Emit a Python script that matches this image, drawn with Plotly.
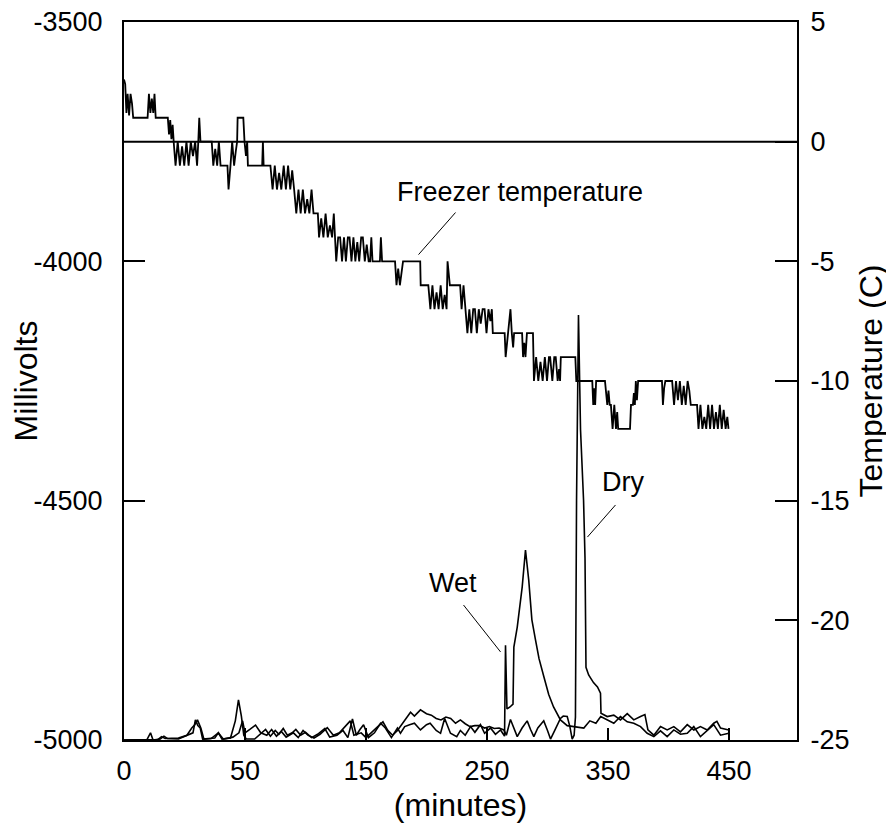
import plotly.graph_objects as go

# ---------------- axis ticks ----------------
X_TICK_POS = [0, 100, 200, 300, 400, 500]
X_TICK_LABELS = ["0", "50", "150", "250", "350", "450"]
MV_TICKS = [-5000, -4500, -4000, -3500]
MV_LABELS = ["-5000", "-4500", "-4000", "-3500"]
TEMP_TICKS = [-25, -20, -15, -10, -5, 0, 5]
TEMP_LABELS = ["-25", "-20", "-15", "-10", "-5", "0", "5"]

# ---------------- freezer temperature (C) ----------------
freezer_time = [
    0, 1.0, 2.0, 3.0, 4.2, 5.4, 6.6, 7.6,
    19.5, 20.6, 21.8, 23.0, 24.2, 25.2, 26.2,
    36.2, 37.2, 38.2, 39.2, 40.2, 41.2,
    42.6, 44.4, 46.2, 48.0, 49.8, 51.6, 53.4, 55.2, 57.0, 58.8, 60.4, 61.4,
    62.2, 63.2,
    72.5, 73.8, 75.4, 77.0, 78.4, 79.8,
    85.5, 86.4, 87.3, 88.0, 89.4, 91.0, 92.4, 93.5,
    93.9, 98.6, 99.6, 100.8, 101.8, 102.4,
    114.2, 114.8, 115.4,
    121.0, 122.8, 124.6, 126.4, 128.2, 130.0, 131.4, 132.0, 133.8, 135.6,
    137.4, 139.0, 140.6,
    142.4, 144.2, 146.0, 147.8, 149.6, 151.4, 153.2, 155.0, 156.6,
    160.2, 161.2, 163.0, 164.8, 166.6, 168.4, 170.2, 172.0, 173.4, 174.6,
    175.4, 177.0, 178.6, 180.2, 181.8, 183.4, 185.0, 186.4, 188.0, 189.6,
    191.2, 192.8, 194.4, 196.0, 197.4, 199.0, 200.6, 202.2, 203.4, 204.4,
    205.4,
    211.5, 212.3, 213.3,
    224.0, 225.2, 226.6, 228.0, 229.4, 230.6,
    244.8, 245.2,
    251.5, 253.2, 254.9, 256.6, 258.3, 260.0, 261.7, 263.4, 265.0, 266.6,
    267.4, 268.6, 269.3,
    277.8, 279.0, 280.6, 282.2, 283.8, 285.4, 287.0, 288.6, 290.0, 291.6,
    293.2, 294.8, 296.4, 298.0, 299.6, 301.2, 302.8, 304.0, 304.8,
    314.6, 315.4, 316.4, 317.4, 318.5, 319.4, 320.5, 321.6, 322.4,
    329.0, 329.8, 330.8, 331.8, 333.0,
    338.0, 338.8, 340.6, 342.4, 344.2, 346.0, 347.8, 349.6, 351.2, 352.2,
    354.0, 355.6, 356.8, 358.4, 359.6, 360.4, 361.0,
    373.0, 373.8,
    387.0, 387.8, 388.6, 389.4, 390.2,
    397.5, 398.4, 399.4, 400.4, 401.4,
    402.4, 403.8, 405.2, 406.6, 407.6, 408.4,
    418.2, 419.0, 420.6, 421.4, 422.2, 423.0, 423.9, 424.9,
    444.6, 445.4, 446.4, 447.4,
    453.0, 454.6, 456.2, 457.8, 459.4, 461.0, 462.6, 464.2, 465.8, 467.2,
    468.4,
    473.6, 474.8, 476.4, 478.0, 479.6, 481.2, 482.8, 484.4, 486.0, 487.6,
    489.2, 490.8, 492.4, 494.0, 495.6, 497.2, 498.6, 499.6,
]
freezer_temp = [
    2.6, 2.4, 1.2, 2.0, 1.1, 2.0, 1.6, 1.0,
    1.0, 2.0, 1.2, 1.8, 1.2, 2.0, 1.0,
    1.0, 0.3, 0.9, 0.1, 0.7, -0.1,
    -1, 0, -1, -0.2, -1, 0, -1, 0, -0.6, 0, -1, 0,
    1.0, 0.0,
    0, -1, -0.3, -1, 0, -1,
    -1, -2, -1.2, -1, 0, -1, -0.4, 0,
    1, 1, 0, -0.6, 0, -1,
    -1, 0, -1,
    -1, -2, -1, -2, -1.3, -2, -1, -1, -2, -1,
    -2, -1.2, -2,
    -3, -2, -3, -2, -3, -2.4, -3, -2, -3,
    -3, -4, -3.2, -4, -3, -4, -3.5, -4, -3, -4,
    -5, -4, -4, -5, -4, -5, -4, -4, -5, -4,
    -5, -4.2, -5, -4, -4, -5, -4.3, -5, -5, -4,
    -5,
    -5, -4, -5,
    -5, -6, -5.3, -6, -5.4, -5,
    -5, -6,
    -6, -7, -6, -7, -6.3, -7, -6, -7, -6.4, -7,
    -5, -5.5, -6,
    -6, -7, -6, -7, -8, -7, -8, -7, -7, -8,
    -7, -7.6, -7, -7, -8, -7, -7.5, -7, -8,
    -8, -9, -8.5, -8, -7.5, -7, -8, -8.6, -8,
    -8, -9, -8.4, -9, -8,
    -8, -10, -9, -10, -9.2, -10, -9, -10, -9, -9,
    -10, -9, -9, -10, -9.5, -10, -9,
    -9, -10,
    -10, -11, -10.3, -11, -10,
    -10, -10.6, -11, -10.4, -11,
    -11, -12, -11, -12, -11.3, -12,
    -12, -11, -11, -10.5, -11, -10, -10.8, -10,
    -10, -11, -10.3, -10,
    -10, -11, -10, -10.8, -10, -11, -10.2, -11, -10, -10.4,
    -11,
    -11, -12, -11, -12, -11.5, -12, -11, -12, -11, -12,
    -11.3, -12, -11, -12, -11.2, -12, -11.5, -12,
]

# ---------------- Wet sensor (mV) ----------------
wet_time = [
    0, 10, 19, 21.9, 24, 30, 33, 36, 45, 57, 59, 61, 63, 65, 75, 78, 81, 88,
    92, 94.6, 97, 99, 101, 108, 114, 117, 121, 125, 128, 131.6, 135, 139, 142,
    146, 150, 155, 160, 166, 170, 176, 181, 185, 188.8, 192, 195, 198, 202,
    207, 212, 216, 221, 226, 228.5, 232, 236, 240, 245, 250, 253, 258, 261.6,
    265, 269.8, 275, 278, 282, 286.4, 290, 294.6, 298, 302.9, 307, 311.2,
    314.5, 315.3, 316.5, 319, 321.5, 322.2, 325, 329.1, 331.8, 334.5, 337.1,
    340, 343, 347, 351, 355, 360.7, 366.3, 372, 376, 380, 385, 390, 394,
    399.3, 404.8, 410.3, 415.9, 421.3, 426.9, 432.4, 437.9, 443.4, 448.9,
    454.4, 459.9, 465.5, 470.9, 476.4, 482, 487.4, 493, 499.8,
]
wet_mv = [
    -5000, -5000, -4999, -4985, -5000, -4998, -4992, -4997, -4998, -4985,
    -4958, -4970, -4975, -4998, -4996, -4985, -4998, -4996,
    -4960, -4916, -4950, -4990, -4998, -4998, -4985, -4978, -4992, -4980,
    -4988, -4976, -4990, -4985, -4978,
    -4990, -4984, -4995, -4988, -4976, -4994, -4990, -4980, -4995, -4956,
    -4990, -4978, -4968, -4995,
    -4985, -4965, -4975, -4995, -4975, -4986, -4972, -4968, -4965, -4979,
    -4968, -4965, -4980, -4986,
    -4955, -4986, -4993, -4980, -4990, -4972, -4984, -4968, -4986, -4975,
    -4988, -4979,
    -4992, -4802, -4935, -4931, -4925, -4806, -4764, -4680, -4603, -4666,
    -4749,
    -4790, -4830, -4868, -4905, -4931, -4958, -4970, -4972, -4975, -4975,
    -4960, -4965, -4951,
    -4958, -4965, -4951, -4962, -4965, -4972, -4986, -4993, -4981, -4993,
    -4979, -4988, -4986, -4972, -4993, -4981, -4968, -4990, -4986,
]

# ---------------- Dry sensor (mV) ----------------
dry_time = [
    0, 15, 28, 31, 34, 45, 52, 56, 58.5, 60.7, 62, 63.5, 66, 72, 78, 82, 90,
    95, 98, 100, 104, 108.7, 113, 118, 122, 126, 130, 134, 140, 144, 148, 152,
    157, 162, 168, 173, 178, 183, 187, 190, 196, 200, 206, 210, 214, 218, 222,
    226, 230, 234, 236.8, 240, 245, 250, 254, 258, 262, 266, 270, 274, 278,
    282, 286, 290, 294, 298, 302, 306, 310, 313.9, 316, 319.4, 322, 325, 329,
    333.2, 336, 338.7, 342, 346.9, 350, 352.5, 356, 360.7, 363, 366.3, 368.5,
    370.4, 372, 373.1, 374, 375.6, 377.3, 379.8, 381, 381.8, 384, 388, 391.3,
    393.8, 394.2, 399.3, 404.8, 410.3, 415.9, 421.3, 426.9, 430.5, 433, 437.9,
    443.4, 448.9, 454.4, 459.9, 465.5, 470.9, 476.4, 482, 487.4, 490, 493,
    499.8,
]
dry_mv = [
    -5000, -5000, -4999, -4993, -4997, -4996, -4990, -4975, -4968, -4958,
    -4965, -4975, -4998, -4997, -4985, -4998, -4994,
    -4985, -4960, -4985, -4978, -4969, -4985, -4990, -4978, -4992, -4982,
    -4994, -4985, -4995, -4980, -4990,
    -4996, -4988, -4974, -4990, -4985, -4970, -4960, -4990, -4985, -4995,
    -4980, -4972, -4962, -4980, -4990,
    -4980, -4965, -4950, -4942, -4950, -4937, -4945, -4948, -4955, -4958,
    -4952, -4955, -4965, -4958,
    -4966, -4972, -4970, -4970, -4975, -4972, -4976, -4975, -4979, -4990,
    -4957, -4975, -4993, -4975,
    -4960, -4978, -4993, -4975, -4960, -4980, -4998, -4980, -4955, -4950,
    -4951, -4972,
    -4998, -4990, -4952, -4500, -4112, -4352, -4499, -4620, -4848, -4864,
    -4880, -4889,
    -4902, -4944, -4951, -4948, -4958, -4945, -4958, -4951, -4947, -4979,
    -4990,
    -4972, -4979, -4972, -4983, -4968, -4979, -4972, -4979, -4965, -4961,
    -4975, -4979,
]

assert len(freezer_time) == len(freezer_temp)
assert len(wet_time) == len(wet_mv)
assert len(dry_time) == len(dry_mv)

FONT = "Liberation Sans, Arial, Helvetica, sans-serif"
BLACK = "#000000"

fig = go.Figure()
fig.add_trace(go.Scatter(x=wet_time, y=wet_mv, mode="lines", name="Wet",
                         line=dict(color=BLACK, width=1.6), yaxis="y"))
fig.add_trace(go.Scatter(x=dry_time, y=dry_mv, mode="lines", name="Dry",
                         line=dict(color=BLACK, width=1.6), yaxis="y"))
fig.add_trace(go.Scatter(x=freezer_time, y=freezer_temp, mode="lines",
                         name="Freezer temperature",
                         line=dict(color=BLACK, width=1.8),
                         yaxis="y2"))

# page body keeps an 8px margin, so the figure is 8px smaller than the window
fig.update_layout(
    width=886, height=822,
    margin=dict(l=116, r=97, t=14, b=90, autoexpand=False),
    paper_bgcolor="white", plot_bgcolor="white",
    showlegend=False,
    font=dict(family=FONT, color=BLACK, size=27),
    xaxis=dict(
        range=[0, 556.2], tickmode="array", tickvals=X_TICK_POS,
        ticktext=X_TICK_LABELS, ticks="inside", ticklen=12, tickwidth=2,
        tickcolor=BLACK, showline=True, linewidth=2, linecolor=BLACK,
        mirror=True, showgrid=False, zeroline=False,
        tickfont=dict(size=27), ticklabelstandoff=6,
        ticklabeloverflow="allow",
        title=dict(text="(minutes)", font=dict(size=32), standoff=8),
    ),
    yaxis=dict(
        range=[-5000, -3500], tickmode="array", tickvals=MV_TICKS,
        ticktext=MV_LABELS, ticks="inside", ticklen=21, tickwidth=2,
        tickcolor=BLACK, showline=True, linewidth=2, linecolor=BLACK,
        showgrid=False, zeroline=False, tickfont=dict(size=27),
        ticklabelstandoff=14, ticklabeloverflow="allow",
        title=dict(text="Millivolts", font=dict(size=32), standoff=22),
    ),
    yaxis2=dict(
        range=[-25, 5], overlaying="y", side="right", tickmode="array",
        tickvals=TEMP_TICKS, ticktext=TEMP_LABELS, ticks="inside",
        ticklen=22, tickwidth=2, tickcolor=BLACK, showline=True,
        linewidth=2, linecolor=BLACK, showgrid=False, zeroline=False,
        tickfont=dict(size=27), ticklabelstandoff=6,
        ticklabeloverflow="allow",
        title=dict(text="Temperature (C)", font=dict(size=32), standoff=11),
    ),
)

# 0 C reference line
fig.add_shape(type="line", xref="paper", x0=0, x1=1, yref="y2", y0=0, y1=0,
              line=dict(color=BLACK, width=2))

# leader lines for labels
fig.add_shape(type="line", xref="x", yref="y2", x0=274, y0=-2.96,
              x1=243.4, y1=-4.72, line=dict(color=BLACK, width=1))
fig.add_shape(type="line", xref="x", yref="y", x0=406.2, y0=-4509,
              x1=383, y1=-4576, line=dict(color=BLACK, width=1))
fig.add_shape(type="line", xref="x", yref="y", x0=280.6, y0=-4718,
              x1=311.2, y1=-4816, line=dict(color=BLACK, width=1))

fig.add_annotation(x=326.9, y=-2.12, xref="x", yref="y2",
                   text="Freezer temperature", showarrow=False,
                   font=dict(size=27, family=FONT, color=BLACK))
fig.add_annotation(x=412, y=-4461, xref="x", yref="y", text="Dry",
                   showarrow=False, font=dict(size=27, family=FONT, color=BLACK))
fig.add_annotation(x=271.5, y=-4672, xref="x", yref="y", text="Wet",
                   showarrow=False, font=dict(size=27, family=FONT, color=BLACK))

fig.write_html("out.html")
